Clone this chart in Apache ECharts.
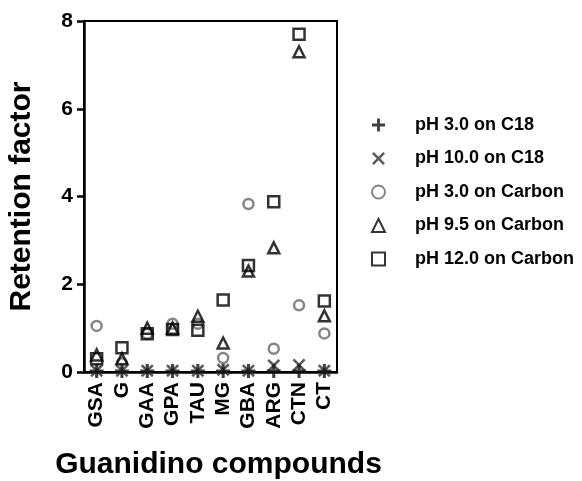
<!DOCTYPE html>
<html>
<head>
<meta charset="utf-8">
<script src="https://cdn.jsdelivr.net/npm/echarts@6/dist/echarts.min.js"></script>
<style>
html,body{margin:0;padding:0;background:#fff;}
#main{width:582px;height:481px;}
</style>
</head>
<body>
<div id="main"></div>
<script>
// categories + values
var compounds = ['GSA', 'G', 'GAA', 'GPA', 'TAU', 'MG', 'GBA', 'ARG', 'CTN', 'CT'];
var ph3C18 = [0.02, 0.02, 0.02, 0.02, 0.02, 0.02, 0.02, 0.02, 0.02, 0.02];
var ph10C18 = [0.03, 0.03, 0.03, 0.03, 0.03, 0.05, 0.03, 0.15, 0.16, 0.03];
var ph3Carbon = [1.05, 0.2, 0.87, 1.1, 1.1, 0.32, 3.83, 0.53, 1.52, 0.88];
var ph95Carbon = [0.39, 0.3, 1.0, 1.0, 1.27, 0.66, 2.3, 2.83, 7.3, 1.28];
var ph12Carbon = [0.3, 0.55, 0.87, 0.97, 0.95, 1.64, 2.43, 3.88, 7.7, 1.62];
var yTicks = [0, 2, 4, 6, 8];

var plusPath = 'path://M3.9,0H6.1V3.9H10V6.1H6.1V10H3.9V6.1H0V3.9H3.9Z';
var crossPath = 'path://M0,1.4L1.4,0L5,3.6L8.6,0L10,1.4L6.4,5L10,8.6L8.6,10L5,6.4L1.4,10L0,8.6L3.6,5Z';
var fontFam = '"Liberation Sans", Arial, sans-serif';

var chart = echarts.init(document.getElementById('main'));
var option = {
	backgroundColor: '#fff',
	animation: false,
	grid: {
		left: 84,
		right: 245,
		top: 21,
		bottom: 109,
		outerBoundsMode: 'none',
		containLabel: false,
		show: true,
		borderColor: '#000',
		borderWidth: 2
	},
	legend: {
		orient: 'vertical',
		left: 366,
		top: 111,
		itemWidth: 13,
		itemHeight: 13,
		itemGap: 15.5,
		textStyle: {
			fontFamily: fontFam,
			fontWeight: 'bold',
			fontSize: 18,
			lineHeight: 18,
			color: '#000',
			padding: [0, 0, 0, 25]
		},
		data: ['pH 3.0 on C18', 'pH 10.0 on C18', 'pH 3.0 on Carbon', 'pH 9.5 on Carbon', 'pH 12.0 on Carbon']
	},
	xAxis: {
		type: 'category',
		data: compounds,
		boundaryGap: true,
		name: 'Guanidino compounds',
		nameLocation: 'middle',
		nameGap: 78,
		nameTextStyle: {
			fontFamily: fontFam,
			fontWeight: 'bold',
			fontSize: 30,
			color: '#000',
			padding: [0, 0, 0, 16]
		},
		axisLine: { lineStyle: { color: '#000', width: 2.5 } },
		axisTick: { show: false },
		axisLabel: {
			rotate: 90,
			interval: 0,
			margin: 10,
			fontFamily: fontFam,
			fontWeight: 'bold',
			fontSize: 21,
			color: '#000'
		}
	},
	yAxis: {
		type: 'value',
		min: 0,
		max: 8,
		interval: 2,
		name: 'Retention factor',
		nameLocation: 'middle',
		nameGap: 47,
		nameTextStyle: {
			fontFamily: fontFam,
			fontWeight: 'bold',
			fontSize: 30,
			color: '#000'
		},
		axisLine: { show: true, lineStyle: { color: '#000', width: 2.5 } },
		axisTick: { show: true, length: 7, lineStyle: { color: '#000', width: 2.5 } },
		splitLine: { show: false },
		axisLabel: {
			margin: 11,
			fontFamily: fontFam,
			fontWeight: 'bold',
			fontSize: 21,
			color: '#000',
			formatter: function (v) { return yTicks.indexOf(v) >= 0 ? String(v) : ''; }
		}
	},
	series: [{
		name: 'pH 3.0 on C18',
		type: 'scatter',
		data: ph3C18,
		symbol: plusPath,
		symbolSize: 14,
		z: 3,
		itemStyle: { color: '#111' }
	}, {
		name: 'pH 10.0 on C18',
		type: 'scatter',
		data: ph10C18,
		symbol: crossPath,
		symbolSize: 13,
		z: 2,
		itemStyle: { color: '#333' }
	}, {
		name: 'pH 3.0 on Carbon',
		type: 'scatter',
		data: ph3Carbon,
		symbol: 'circle',
		symbolSize: 10,
		itemStyle: { color: '#fff', borderColor: '#666', borderWidth: 2.5 }
	}, {
		name: 'pH 9.5 on Carbon',
		type: 'scatter',
		data: ph95Carbon,
		symbol: 'triangle',
		symbolSize: 11,
		itemStyle: { color: 'rgba(255,255,255,0)', borderColor: '#000', borderWidth: 2.5 }
	}, {
		name: 'pH 12.0 on Carbon',
		type: 'scatter',
		data: ph12Carbon,
		symbol: 'rect',
		symbolSize: 11,
		itemStyle: { color: 'rgba(255,255,255,0)', borderColor: '#000', borderWidth: 2.5 }
	}]
};
chart.setOption(option);
</script>
</body>
</html>
